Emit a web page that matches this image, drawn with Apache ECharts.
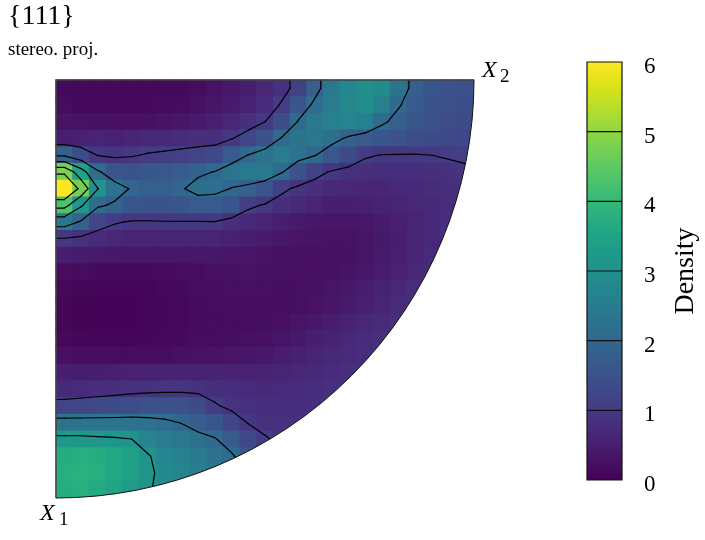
<!DOCTYPE html>
<html>
<head>
<meta charset="utf-8">
<script src="https://cdn.jsdelivr.net/npm/echarts@6/dist/echarts.min.js"></script>
<style>
  html, body { margin: 0; padding: 0; background: #fff; }
  #chart { width: 705px; height: 540px; }
</style>
</head>
<body>
<div id="chart"></div>
<script>
// cell size of the density grid (fraction of the pole figure radius)
var CELL = 0.04
var levels = [1, 2, 3, 4, 5]
var colorTicks = [0, 1, 2, 3, 4, 5, 6]
var viridis = ['#440154', '#471365', '#482475', '#463480', '#414487', '#3b528b', '#355f8d',
  '#2f6c8e', '#2a788e', '#25848e', '#21918c', '#1e9c89', '#22a884', '#2fb47c', '#44bf70',
  '#5ec962', '#7ad151', '#9bd93c', '#bddf26', '#dfe318', '#fde725']

// density, row j = distance along X1 (down), column i = distance along X2 (right)
var densityRows = [
  [0.15, 0.13, 0.12, 0.12, 0.12, 0.12, 0.13, 0.15, 0.2, 0.28, 0.38, 0.5, 0.65, 0.85, 1.15, 1.8, 2.4, 2.75, 2.95, 2.85, 2.3, 1.8, 1.6, 1.5, 1.45],
  [0.18, 0.15, 0.14, 0.14, 0.14, 0.15, 0.17, 0.2, 0.26, 0.35, 0.45, 0.58, 0.75, 1.05, 1.6, 2.15, 2.5, 2.8, 2.9, 2.6, 2.05, 1.7, 1.55, 1.45, 1.4],
  [0.3, 0.28, 0.26, 0.25, 0.25, 0.27, 0.3, 0.35, 0.42, 0.52, 0.65, 0.8, 1.0, 1.4, 2.05, 2.4, 2.6, 2.7, 2.6, 2.1, 1.8, 1.6, 1.5, 1.4, 1.35],
  [0.5, 0.55, 0.6, 0.55, 0.6, 0.65, 0.7, 0.75, 0.8, 0.8, 0.98, 1.2, 1.5, 2.05, 2.3, 2.4, 2.2, 1.9, 1.7, 1.6, 1.5, 1.4, 1.35, 1.3, 1.25],
  [1.9, 1.4, 0.98, 0.9, 0.95, 1.05, 1.1, 1.15, 1.2, 1.3, 1.7, 2.02, 2.3, 2.5, 2.25, 2.02, 1.65, 1.35, 1.05, 0.98, 0.97, 0.97, 1.0, 1.05, 1.1],
  [4.8, 3.4, 2.1, 1.6, 1.5, 1.6, 1.65, 1.75, 1.9, 2.02, 2.3, 2.45, 2.45, 2.05, 1.5, 1.15, 0.95, 0.85, 0.8, 0.78, 0.78, 0.78, 0.8, 0.85, 0.9],
  [6.3, 4.7, 3.02, 2.3, 1.95, 1.8, 1.8, 1.95, 2.2, 2.15, 1.98, 1.85, 1.6, 1.1, 0.9, 0.8, 0.7, 0.65, 0.62, 0.64, 0.67, 0.7, 0.75, 0.8, 0.86],
  [4.3, 3.1, 2.1, 1.9, 1.6, 1.55, 1.55, 1.6, 1.7, 1.7, 1.6, 1.1, 0.95, 0.8, 0.7, 0.6, 0.5, 0.5, 0.52, 0.56, 0.6, 0.65, 0.7, 0.76],
  [2.4, 1.9, 1.25, 1.05, 0.95, 0.95, 0.97, 0.97, 0.97, 0.98, 0.8, 0.7, 0.6, 0.5, 0.42, 0.38, 0.35, 0.35, 0.38, 0.45, 0.52, 0.6, 0.68, 0.76],
  [0.95, 0.85, 0.75, 0.65, 0.6, 0.6, 0.6, 0.6, 0.6, 0.6, 0.55, 0.5, 0.45, 0.38, 0.32, 0.3, 0.28, 0.28, 0.32, 0.4, 0.5, 0.6, 0.68, 0.76],
  [0.5, 0.45, 0.42, 0.4, 0.38, 0.38, 0.38, 0.38, 0.38, 0.38, 0.36, 0.34, 0.3, 0.27, 0.25, 0.24, 0.24, 0.27, 0.33, 0.42, 0.52, 0.62, 0.72],
  [0.2, 0.18, 0.15, 0.14, 0.14, 0.15, 0.17, 0.2, 0.22, 0.25, 0.27, 0.28, 0.27, 0.25, 0.24, 0.24, 0.26, 0.3, 0.37, 0.46, 0.56, 0.66, 0.76],
  [0.12, 0.1, 0.08, 0.07, 0.07, 0.09, 0.12, 0.15, 0.18, 0.21, 0.23, 0.24, 0.23, 0.22, 0.23, 0.26, 0.31, 0.38, 0.46, 0.56, 0.66, 0.76],
  [0.08, 0.06, 0.05, 0.05, 0.05, 0.07, 0.1, 0.13, 0.16, 0.19, 0.21, 0.21, 0.21, 0.21, 0.24, 0.29, 0.36, 0.44, 0.53, 0.62, 0.71, 0.79],
  [0.08, 0.06, 0.05, 0.05, 0.05, 0.07, 0.1, 0.13, 0.16, 0.18, 0.19, 0.2, 0.21, 0.25, 0.31, 0.38, 0.47, 0.56, 0.65, 0.73, 0.8],
  [0.12, 0.1, 0.08, 0.08, 0.08, 0.1, 0.12, 0.15, 0.18, 0.2, 0.21, 0.23, 0.27, 0.33, 0.41, 0.5, 0.59, 0.67, 0.75, 0.81],
  [0.25, 0.22, 0.2, 0.19, 0.19, 0.2, 0.22, 0.25, 0.28, 0.3, 0.32, 0.35, 0.4, 0.46, 0.53, 0.6, 0.67, 0.73, 0.79, 0.84],
  [0.5, 0.5, 0.5, 0.52, 0.54, 0.56, 0.58, 0.58, 0.58, 0.57, 0.56, 0.55, 0.56, 0.6, 0.65, 0.7, 0.75, 0.8, 0.84],
  [0.7, 0.73, 0.76, 0.8, 0.85, 0.88, 0.9, 0.9, 0.88, 0.83, 0.76, 0.71, 0.7, 0.72, 0.75, 0.79, 0.82, 0.85],
  [1.2, 1.25, 1.3, 1.35, 1.4, 1.45, 1.45, 1.45, 1.35, 1.05, 0.9, 0.85, 0.78, 0.76, 0.78, 0.81, 0.84],
  [2.3, 2.3, 2.3, 2.3, 2.3, 2.25, 2.15, 1.98, 1.75, 1.6, 1.25, 0.98, 0.85, 0.82, 0.84],
  [3.2, 3.2, 3.15, 3.1, 3.02, 2.7, 2.5, 2.4, 2.2, 2.05, 1.7, 1.3, 1.05, 0.9],
  [3.7, 3.75, 3.7, 3.6, 3.4, 3.05, 2.75, 2.6, 2.45, 2.25, 2.08, 1.6],
  [3.75, 3.8, 3.75, 3.6, 3.4, 3.1, 2.85, 2.7, 2.5, 2.35],
  [3.7, 3.75, 3.65, 3.5, 3.3, 3.05, 2.85]
]

var N = densityRows.length

// cells for the heatmap
var cellData = []
densityRows.forEach(function (row, j) {
  row.forEach(function (v, i) {
    cellData.push([i * CELL, j * CELL, v])
  })
})

// contour lines (marching squares on the cell centres, edge nodes copy their neighbour)
function nodeValue (a, b) {
  var j = Math.min(Math.max(b - 1, 0), N - 1)
  var row = densityRows[j]
  var i = Math.min(Math.max(a - 1, 0), row.length - 1)
  return row[i]
}
function isReal (a, b) {
  var j = b - 1
  if (j < 0 || j >= N) return false
  return a - 1 >= 0 && a - 1 < densityRows[j].length
}
function nodePos (a) {
  if (a <= 0) return 0
  if (a >= N + 1) return N * CELL
  return (a - 0.5) * CELL
}
var caseTable = {
  1: [['L', 'B']], 2: [['B', 'R']], 3: [['L', 'R']], 4: [['T', 'R']],
  6: [['T', 'B']], 7: [['L', 'T']], 8: [['L', 'T']], 9: [['T', 'B']],
  11: [['T', 'R']], 12: [['L', 'R']], 13: [['B', 'R']], 14: [['L', 'B']]
}
var segments = []
levels.forEach(function (lv) {
  for (var b = 0; b <= N; b++) {
    for (var a = 0; a <= N; a++) {
      if (!(isReal(a, b) || isReal(a + 1, b) || isReal(a, b + 1) || isReal(a + 1, b + 1))) continue
      var x0 = nodePos(a), x1 = nodePos(a + 1), y0 = nodePos(b), y1 = nodePos(b + 1)
      var tl = nodeValue(a, b), tr = nodeValue(a + 1, b)
      var br = nodeValue(a + 1, b + 1), bl = nodeValue(a, b + 1)
      var code = (tl >= lv ? 8 : 0) + (tr >= lv ? 4 : 0) + (br >= lv ? 2 : 0) + (bl >= lv ? 1 : 0)
      if (code === 0 || code === 15) continue
      var f = function (u, v) { return (lv - u) / (v - u) }
      var pts = {
        T: function () { return [x0 + (x1 - x0) * f(tl, tr), y0] },
        R: function () { return [x1, y0 + (y1 - y0) * f(tr, br)] },
        B: function () { return [x0 + (x1 - x0) * f(bl, br), y1] },
        L: function () { return [x0, y0 + (y1 - y0) * f(tl, bl)] }
      }
      var pairs = caseTable[code]
      var centre = (tl + tr + br + bl) / 4
      if (code === 5) pairs = centre >= lv ? [['L', 'T'], ['B', 'R']] : [['T', 'R'], ['L', 'B']]
      if (code === 10) pairs = centre >= lv ? [['T', 'R'], ['L', 'B']] : [['L', 'T'], ['B', 'R']]
      pairs.forEach(function (p) {
        var s = pts[p[0]](), e = pts[p[1]]()
        segments.push([s[0], s[1], e[0], e[1]])
      })
    }
  }
})

var serif = 'Liberation Serif'
var chart = echarts.init(document.getElementById('chart'))
chart.setOption({
  animation: false,
  backgroundColor: '#fff',
  grid: [
    { left: 56, top: 80, width: 418, height: 418 },
    { left: 587, top: 62, width: 35, height: 418 }
  ],
  xAxis: [
    { type: 'value', min: 0, max: 1, show: false, gridIndex: 0 },
    { type: 'value', min: 0, max: 1, show: false, gridIndex: 1 }
  ],
  yAxis: [
    { type: 'value', min: 0, max: 1, inverse: true, show: false, gridIndex: 0 },
    {
      type: 'value',
      gridIndex: 1,
      min: colorTicks[0],
      max: colorTicks[colorTicks.length - 1],
      interval: 1,
      position: 'right',
      axisLine: { show: false },
      axisTick: { show: false },
      splitLine: { show: false },
      axisLabel: { fontFamily: serif, fontSize: 23, color: '#000', margin: 22, verticalAlign: 'top', lineHeight: 10 },
      name: 'Density',
      nameLocation: 'middle',
      nameRotate: 90,
      nameGap: 50,
      nameTextStyle: { fontFamily: serif, fontSize: 28, color: '#000' }
    }
  ],
  visualMap: {
    show: false,
    type: 'continuous',
    min: 0,
    max: 6,
    dimension: 2,
    seriesIndex: 0,
    inRange: { color: viridis }
  },
  series: [
    {
      type: 'custom',
      z: 1,
      data: cellData,
      renderItem: function (params, api) {
        var x = api.value(0), y = api.value(1)
        var p0 = api.coord([x, y])
        var p1 = api.coord([x + CELL, y + CELL])
        return {
          type: 'rect',
          shape: { x: p0[0] - 0.5, y: p0[1] - 0.5, width: p1[0] - p0[0] + 1, height: p1[1] - p0[1] + 1 },
          style: { fill: api.visual('color') }
        }
      }
    },
    {
      type: 'custom',
      z: 2,
      data: segments,
      renderItem: function (params, api) {
        var s = api.coord([api.value(0), api.value(1)])
        var e = api.coord([api.value(2), api.value(3)])
        return {
          type: 'line',
          shape: { x1: s[0], y1: s[1], x2: e[0], y2: e[1] },
          style: { stroke: '#000', lineWidth: 1.2, lineCap: 'round' }
        }
      }
    },
    {
      // white ring outside the quarter circle + outline
      type: 'custom',
      z: 3,
      data: [[0, 0]],
      renderItem: function (params, api) {
        var c = api.coord([0, 0])
        var r = api.coord([1, 0])[0] - c[0]
        return {
          type: 'group',
          children: [
            {
              type: 'sector',
              shape: { cx: c[0], cy: c[1], r0: r, r: r + 45, startAngle: 0, endAngle: Math.PI / 2 },
              style: { fill: '#fff' }
            },
            {
              type: 'polyline',
              shape: { points: [[c[0], c[1] + r], [c[0], c[1]], [c[0] + r, c[1]]] },
              style: { stroke: '#444', lineWidth: 1.5, fill: null }
            },
            {
              type: 'arc',
              shape: { cx: c[0], cy: c[1], r: r, startAngle: 0, endAngle: Math.PI / 2 },
              style: { stroke: '#111', lineWidth: 1, fill: null }
            }
          ]
        }
      }
    },
    {
      // colour bar
      type: 'custom',
      xAxisIndex: 1,
      yAxisIndex: 1,
      z: 3,
      data: [[0, 0]],
      renderItem: function (params, api) {
        var top = api.coord([0, 6])
        var bot = api.coord([1, 0])
        var stops = viridis.map(function (col, k) {
          return { offset: 1 - k / (viridis.length - 1), color: col }
        }).reverse()
        var children = [{
          type: 'rect',
          shape: { x: top[0], y: top[1], width: bot[0] - top[0], height: bot[1] - top[1] },
          style: { fill: new echarts.graphic.LinearGradient(0, 0, 0, 1, stops) }
        }]
        levels.forEach(function (lv) {
          var p = api.coord([0, lv])
          children.push({
            type: 'line',
            shape: { x1: top[0], y1: p[1], x2: bot[0], y2: p[1] },
            style: { stroke: '#111', lineWidth: 1.2 }
          })
        })
        children.push({
          type: 'rect',
          shape: { x: top[0], y: top[1], width: bot[0] - top[0], height: bot[1] - top[1] },
          style: { fill: null, stroke: '#111', lineWidth: 1.2 }
        })
        return { type: 'group', children: children }
      }
    }
  ],
  graphic: [
    { type: 'text', z: 100, x: 8, y: 17, style: { text: '{111}', fontFamily: serif, fontSize: 28, fill: '#000', verticalAlign: 'middle' } },
    { type: 'text', z: 100, x: 8, y: 50, style: { text: 'stereo. proj.', fontFamily: serif, fontSize: 19, fill: '#000', verticalAlign: 'middle' } },
    { type: 'text', z: 100, x: 482, y: 71, style: { text: 'X', fontFamily: serif, fontStyle: 'italic', fontSize: 24, fill: '#000', verticalAlign: 'middle' } },
    { type: 'text', z: 100, x: 500, y: 77, style: { text: '2', fontFamily: serif, fontSize: 19, fill: '#000', verticalAlign: 'middle' } },
    { type: 'text', z: 100, x: 40, y: 514, style: { text: 'X', fontFamily: serif, fontStyle: 'italic', fontSize: 24, fill: '#000', verticalAlign: 'middle' } },
    { type: 'text', z: 100, x: 59, y: 520, style: { text: '1', fontFamily: serif, fontSize: 19, fill: '#000', verticalAlign: 'middle' } }
  ]
})
</script>
</body>
</html>
